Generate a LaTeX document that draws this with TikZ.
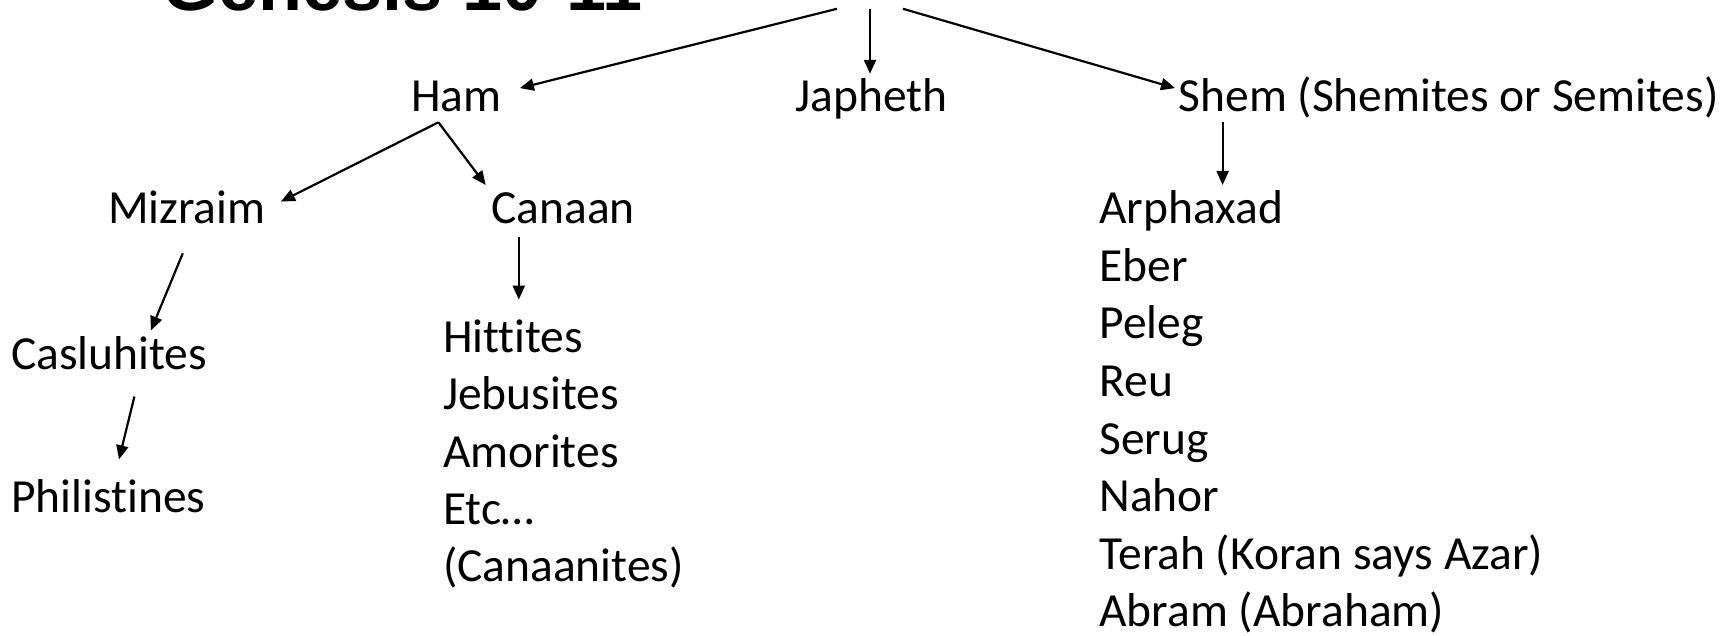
\documentclass[tikz,border=0pt]{standalone}
\usepackage{fontspec}
\setmainfont{Carlito}[Ligatures=NoCommon]
\newfontfamily\titlefont{Liberation Sans}
\usetikzlibrary{arrows.meta}
\begin{document}
\begin{tikzpicture}[x=1pt,y=-1pt,
  lbl/.style={anchor=base west,inner sep=0pt,font=\fontsize{47.5}{57}\selectfont},
  conn/.style={line width=2.2pt,-{Triangle[length=14pt,width=12pt]}}]
\useasboundingbox (0,0) rectangle (1727,636);
\begin{scope}
\clip (0,0) rectangle (1727,636);
\node[anchor=base west,inner sep=0pt,font=\titlefont\bfseries\fontsize{72}{72}\selectfont] (title) at (162,11) {Genesis 10-11};
\end{scope}
% level 1
\node[lbl] (ham) at (410.8,111.2) {Ham};
\node[lbl] (japheth) at (795.2,111.2) {Japheth};
\node[lbl] (shem) at (1178.5,111.2) {Shem (Shemites or Semites)};
% level 2
\node[lbl] (mizraim) at (107.9,223.6) {Mizraim};
\node[lbl] (canaan) at (491.2,223.6) {Canaan};
\node[lbl] (casluhites) at (11,369) {Casluhites};
\node[lbl] (philistines) at (11,512) {Philistines};
% Canaan list
\node[lbl] (hittites) at (442.8,352.4) {Hittites};
\node[lbl] (jebusites) at (442.8,409.7) {Jebusites};
\node[lbl] (amorites) at (442.8,467.0) {Amorites};
\node[lbl] (etc) at (442.8,524.3) {Etc…};
\node[lbl] (canaanites) at (442.8,581.6) {(Canaanites)};
% Shem list
\node[lbl] (arphaxad) at (1099.2,223.6) {Arphaxad};
\node[lbl] (eber) at (1099.2,281.2) {Eber};
\node[lbl] (peleg) at (1099.2,338.8) {Peleg};
\node[lbl] (reu) at (1099.2,396.4) {Reu};
\node[lbl] (serug) at (1099.2,454.0) {Serug};
\node[lbl] (nahor) at (1099.2,511.6) {Nahor};
\node[lbl] (terah) at (1099.2,569.2) {Terah (Koran says Azar)};
\node[lbl] (abram) at (1099.2,626.8) {Abram (Abraham)};
% connector ends
\coordinate (rootL) at (837,8.8);
\coordinate (rootM) at (870,8.8);
\coordinate (rootR) at (903,8.8);
\coordinate (hamT) at (519.9,88.1);
\coordinate (japT) at (870,73.8);
\coordinate (shemT) at (1175,88.1);
\coordinate (hamS) at (438.4,122.3);
\coordinate (mizT) at (280.9,201.6);
\coordinate (canT) at (485.7,185);
\coordinate (mizS) at (182.8,253.3);
\coordinate (casT) at (150.9,330.4);
\coordinate (casS) at (134.4,396.5);
\coordinate (phiT) at (119,459.3);
\coordinate (canS) at (518.8,236.8);
\coordinate (hitT) at (518.8,299.6);
\coordinate (shemS) at (1222.6,122.3);
\coordinate (arpT) at (1222.6,185);
% connectors
\draw[conn] (rootL) -- (hamT);
\draw[conn] (rootM) -- (japT);
\draw[conn] (rootR) -- (shemT);
\draw[conn] (hamS) -- (mizT);
\draw[conn] (hamS) -- (canT);
\draw[conn] (mizS) -- (casT);
\draw[conn] (casS) -- (phiT);
\draw[conn] (canS) -- (hitT);
\draw[conn] (shemS) -- (arpT);
\end{tikzpicture}
\end{document}
